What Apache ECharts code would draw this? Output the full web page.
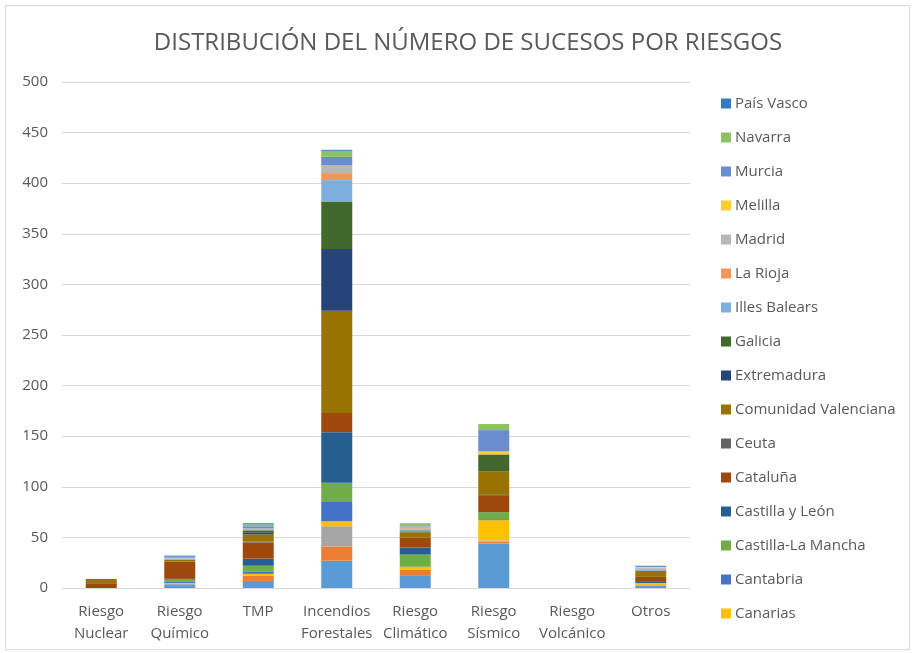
<!DOCTYPE html>
<html>
<head>
<meta charset="utf-8">
<script src="https://cdn.jsdelivr.net/npm/echarts@6/dist/echarts.min.js"></script>
<style>
  html, body { margin: 0; padding: 0; background: #ffffff; }
  #chart { width: 914px; height: 653px; }
</style>
</head>
<body>
<div id="chart"></div>
<script>
  // categorias del eje x
  const riesgos = ['Riesgo\nNuclear', 'Riesgo\nQuímico', 'TMP', 'Incendios\nForestales', 'Riesgo\nClimático', 'Riesgo\nSísmico', 'Riesgo\nVolcánico', 'Otros']

  // una fila por comunidad, en el orden de apilado (de abajo arriba)
  const andalucia      = [0, 2, 7, 27, 12, 44, 0, 2]
  const aragon         = [0, 1, 5, 14, 6, 2, 0, 0]
  const asturias       = [0, 1, 0, 20, 0, 1, 0, 0]
  const canarias       = [0, 1, 2, 5, 3, 20, 0, 3]
  const cantabria      = [0, 1, 2, 19, 0, 1, 0, 0]
  const castillaMancha = [0, 3, 6, 19, 12, 7, 0, 0]
  const castillaLeon   = [0, 0, 7, 50, 7, 0, 0, 1]
  const cataluna       = [4, 17, 16, 19, 10, 16, 0, 5]
  const ceuta          = [0, 0, 1, 0, 0, 1, 0, 0]
  const comValenciana  = [5, 2, 7, 101, 5, 23, 0, 5]
  const extremadura    = [0, 0, 2, 61, 0, 0, 0, 0]
  const galicia        = [0, 0, 2, 47, 1, 17, 0, 1]
  const illesBalears   = [0, 1, 0, 21, 2, 0, 0, 1]
  const laRioja        = [0, 0, 0, 7, 1, 0, 0, 1]
  const madrid         = [0, 1, 2, 8, 2, 0, 0, 1]
  const melilla        = [0, 0, 0, 0, 0, 3, 0, 1]
  const murcia         = [0, 1, 2, 8, 1, 21, 0, 0]
  const navarra        = [0, 0, 2, 6, 2, 6, 0, 0]
  const paisVasco      = [0, 1, 1, 1, 0, 0, 0, 1]

  const comunidades = [
    ['Andalucía', andalucia, '#5B9BD5'],
    ['Aragón', aragon, '#ED7D31'],
    ['Asturias', asturias, '#A5A5A5'],
    ['Canarias', canarias, '#FFC000'],
    ['Cantabria', cantabria, '#4472C4'],
    ['Castilla-La Mancha', castillaMancha, '#70AD47'],
    ['Castilla y León', castillaLeon, '#255E91'],
    ['Cataluña', cataluna, '#9E480E'],
    ['Ceuta', ceuta, '#636363'],
    ['Comunidad Valenciana', comValenciana, '#997300'],
    ['Extremadura', extremadura, '#264478'],
    ['Galicia', galicia, '#43682B'],
    ['Illes Balears', illesBalears, '#7CAFDD'],
    ['La Rioja', laRioja, '#F1975A'],
    ['Madrid', madrid, '#B7B7B7'],
    ['Melilla', melilla, '#FFCD33'],
    ['Murcia', murcia, '#698ED0'],
    ['Navarra', navarra, '#8CC168'],
    ['País Vasco', paisVasco, '#327DC2']
  ]

  // la leyenda de Excel sale invertida y cortada por abajo
  const leyenda = comunidades.map(c => c[0]).reverse().slice(0, 16)

  const txt = '#595959'
  const fuente = 'Open Sans'

  let myChart = echarts.init(document.getElementById('chart'))

  let series = comunidades.map(c => ({
    name: c[0],
    type: 'bar',
    stack: 'total',
    barWidth: 31,
    itemStyle: { color: c[2] },
    data: c[1]
  }))

  let option = {
    animation: false,
    textStyle: { fontFamily: fuente },
    title: {
      text: 'DISTRIBUCIÓN DEL NÚMERO DE SUCESOS POR RIESGOS',
      left: 463,
      textAlign: 'center',
      top: 26,
      textStyle: { fontFamily: fuente, fontSize: 24, fontWeight: 'normal', color: txt }
    },
    legend: {
      orient: 'vertical',
      left: 716,
      top: 91,
      itemWidth: 10,
      itemHeight: 10,
      itemGap: 19,
      icon: 'rect',
      data: leyenda,
      textStyle: { fontFamily: fuente, fontSize: 15, color: txt, padding: [0, 0, 0, -1] }
    },
    graphic: [{
      type: 'rect',
      shape: { x: 5.5, y: 5.5, width: 904, height: 644 },
      style: { fill: 'none', stroke: '#D9D9D9', lineWidth: 1 },
      silent: true
    }],
    grid: {
      left: 62,
      right: 224,
      top: 82,
      bottom: 65
    },
    xAxis: {
      type: 'category',
      data: riesgos,
      axisLine: { lineStyle: { color: '#D9D9D9' } },
      axisTick: { show: false },
      axisLabel: { fontFamily: fuente, fontSize: 15, color: txt, lineHeight: 22, margin: 13, interval: 0 }
    },
    yAxis: {
      type: 'value',
      min: 0,
      max: 500,
      interval: 50,
      axisLine: { show: false },
      axisTick: { show: false },
      splitLine: { lineStyle: { color: '#D9D9D9' } },
      axisLabel: { fontFamily: fuente, fontSize: 15, color: txt, margin: 14 }
    },
    series: series
  }

  myChart.setOption(option)
</script>
</body>
</html>
